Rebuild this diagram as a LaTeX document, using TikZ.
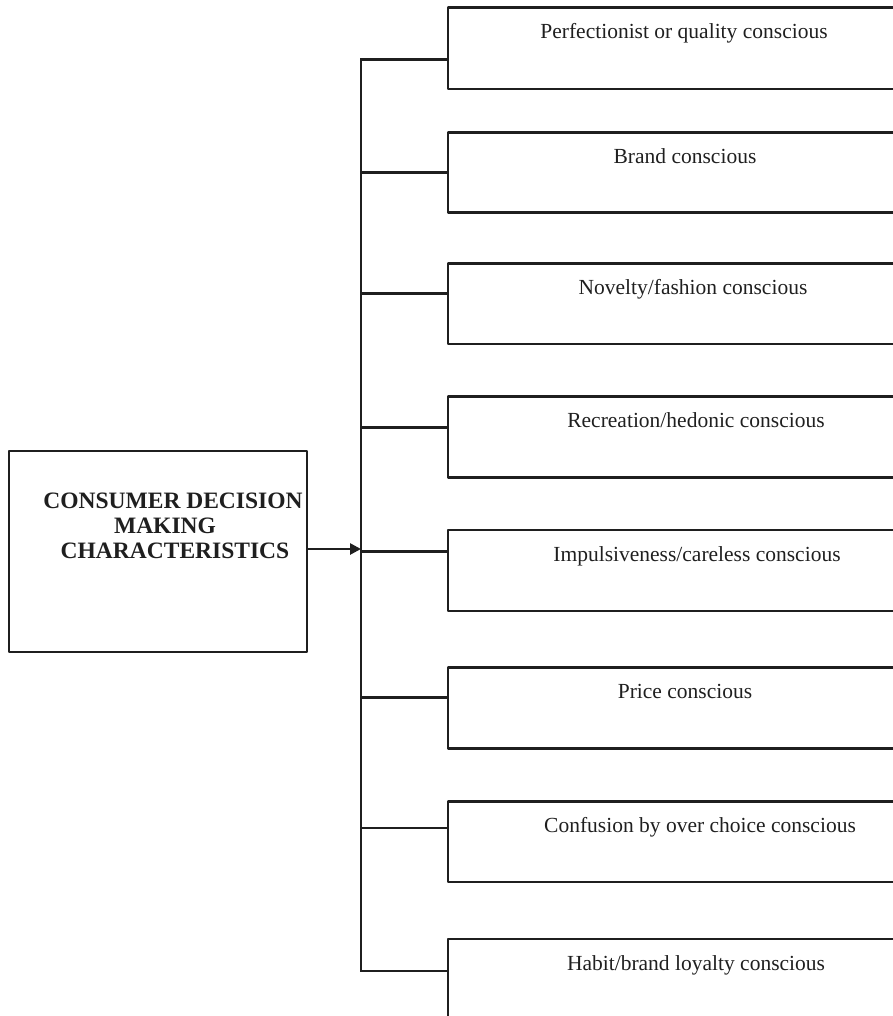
\documentclass[tikz,border=0pt]{standalone}
\usepackage{fontspec}
\setmainfont{Liberation Serif}
\usetikzlibrary{arrows.meta}
\begin{document}
\begin{tikzpicture}[x=1pt,y=-1pt,
  line/.style={draw=black!88, line width=2.6pt},
  itembox/.style={line, line join=round},
  itemtext/.style={anchor=base, inner sep=0pt, font=\fontsize{21.5}{26}\selectfont, text=black!88},
  headtext/.style={anchor=base, inner sep=0pt, font=\fontsize{23.5}{25}\selectfont\bfseries, text=black!88}]
\clip (0,0) rectangle (893,1016);
\useasboundingbox (0,0) rectangle (893,1016);
% main box
\draw[itembox] (9,451) rectangle (307,652);
\coordinate (mainE) at (307,549);
\node[headtext] (h1) at (173,508) {CONSUMER DECISION};
\node[headtext] (h2) at (165,533) {MAKING};
\node[headtext] (h3) at (175,558) {CHARACTERISTICS};
% spine
\coordinate (sTop) at (361,59);
\coordinate (sBot) at (361,971);
\coordinate (sArr) at (361,549);
\draw[line, line cap=rect] (sTop) -- (sBot);
\draw[line, -{Triangle[length=11pt,width=11pt]}] (mainE) -- (sArr);
% item boxes: top, bottom, branch y, text x, text
\foreach \i/\t/\b/\br/\tx/\lab in {
  1/7.5/89/59.3/684/{Perfectionist or quality conscious},
  2/132.5/212.5/172.3/685/{Brand conscious},
  3/263.3/344/293.3/693/{Novelty/fashion conscious},
  4/396.7/477.7/427.3/696/{Recreation/hedonic conscious},
  5/530/611/551.7/697/{Impulsiveness/careless conscious},
  6/667.3/748.3/697.7/685/{Price conscious},
  7/801.7/882/828/700/{Confusion by over choice conscious},
  8/939/1060/971/696/{Habit/brand loyalty conscious}}{
  \draw[itembox] (905,\t) -- (448,\t) -- (448,\b) -- (905,\b);
  \coordinate (b\i) at (448,\br);
  \coordinate (s\i) at (361,\br);
  \draw[line] (s\i) -- (b\i);
  \node[itemtext] (l\i) at (\tx,\t+31) {\lab};
}
\end{tikzpicture}
\end{document}
